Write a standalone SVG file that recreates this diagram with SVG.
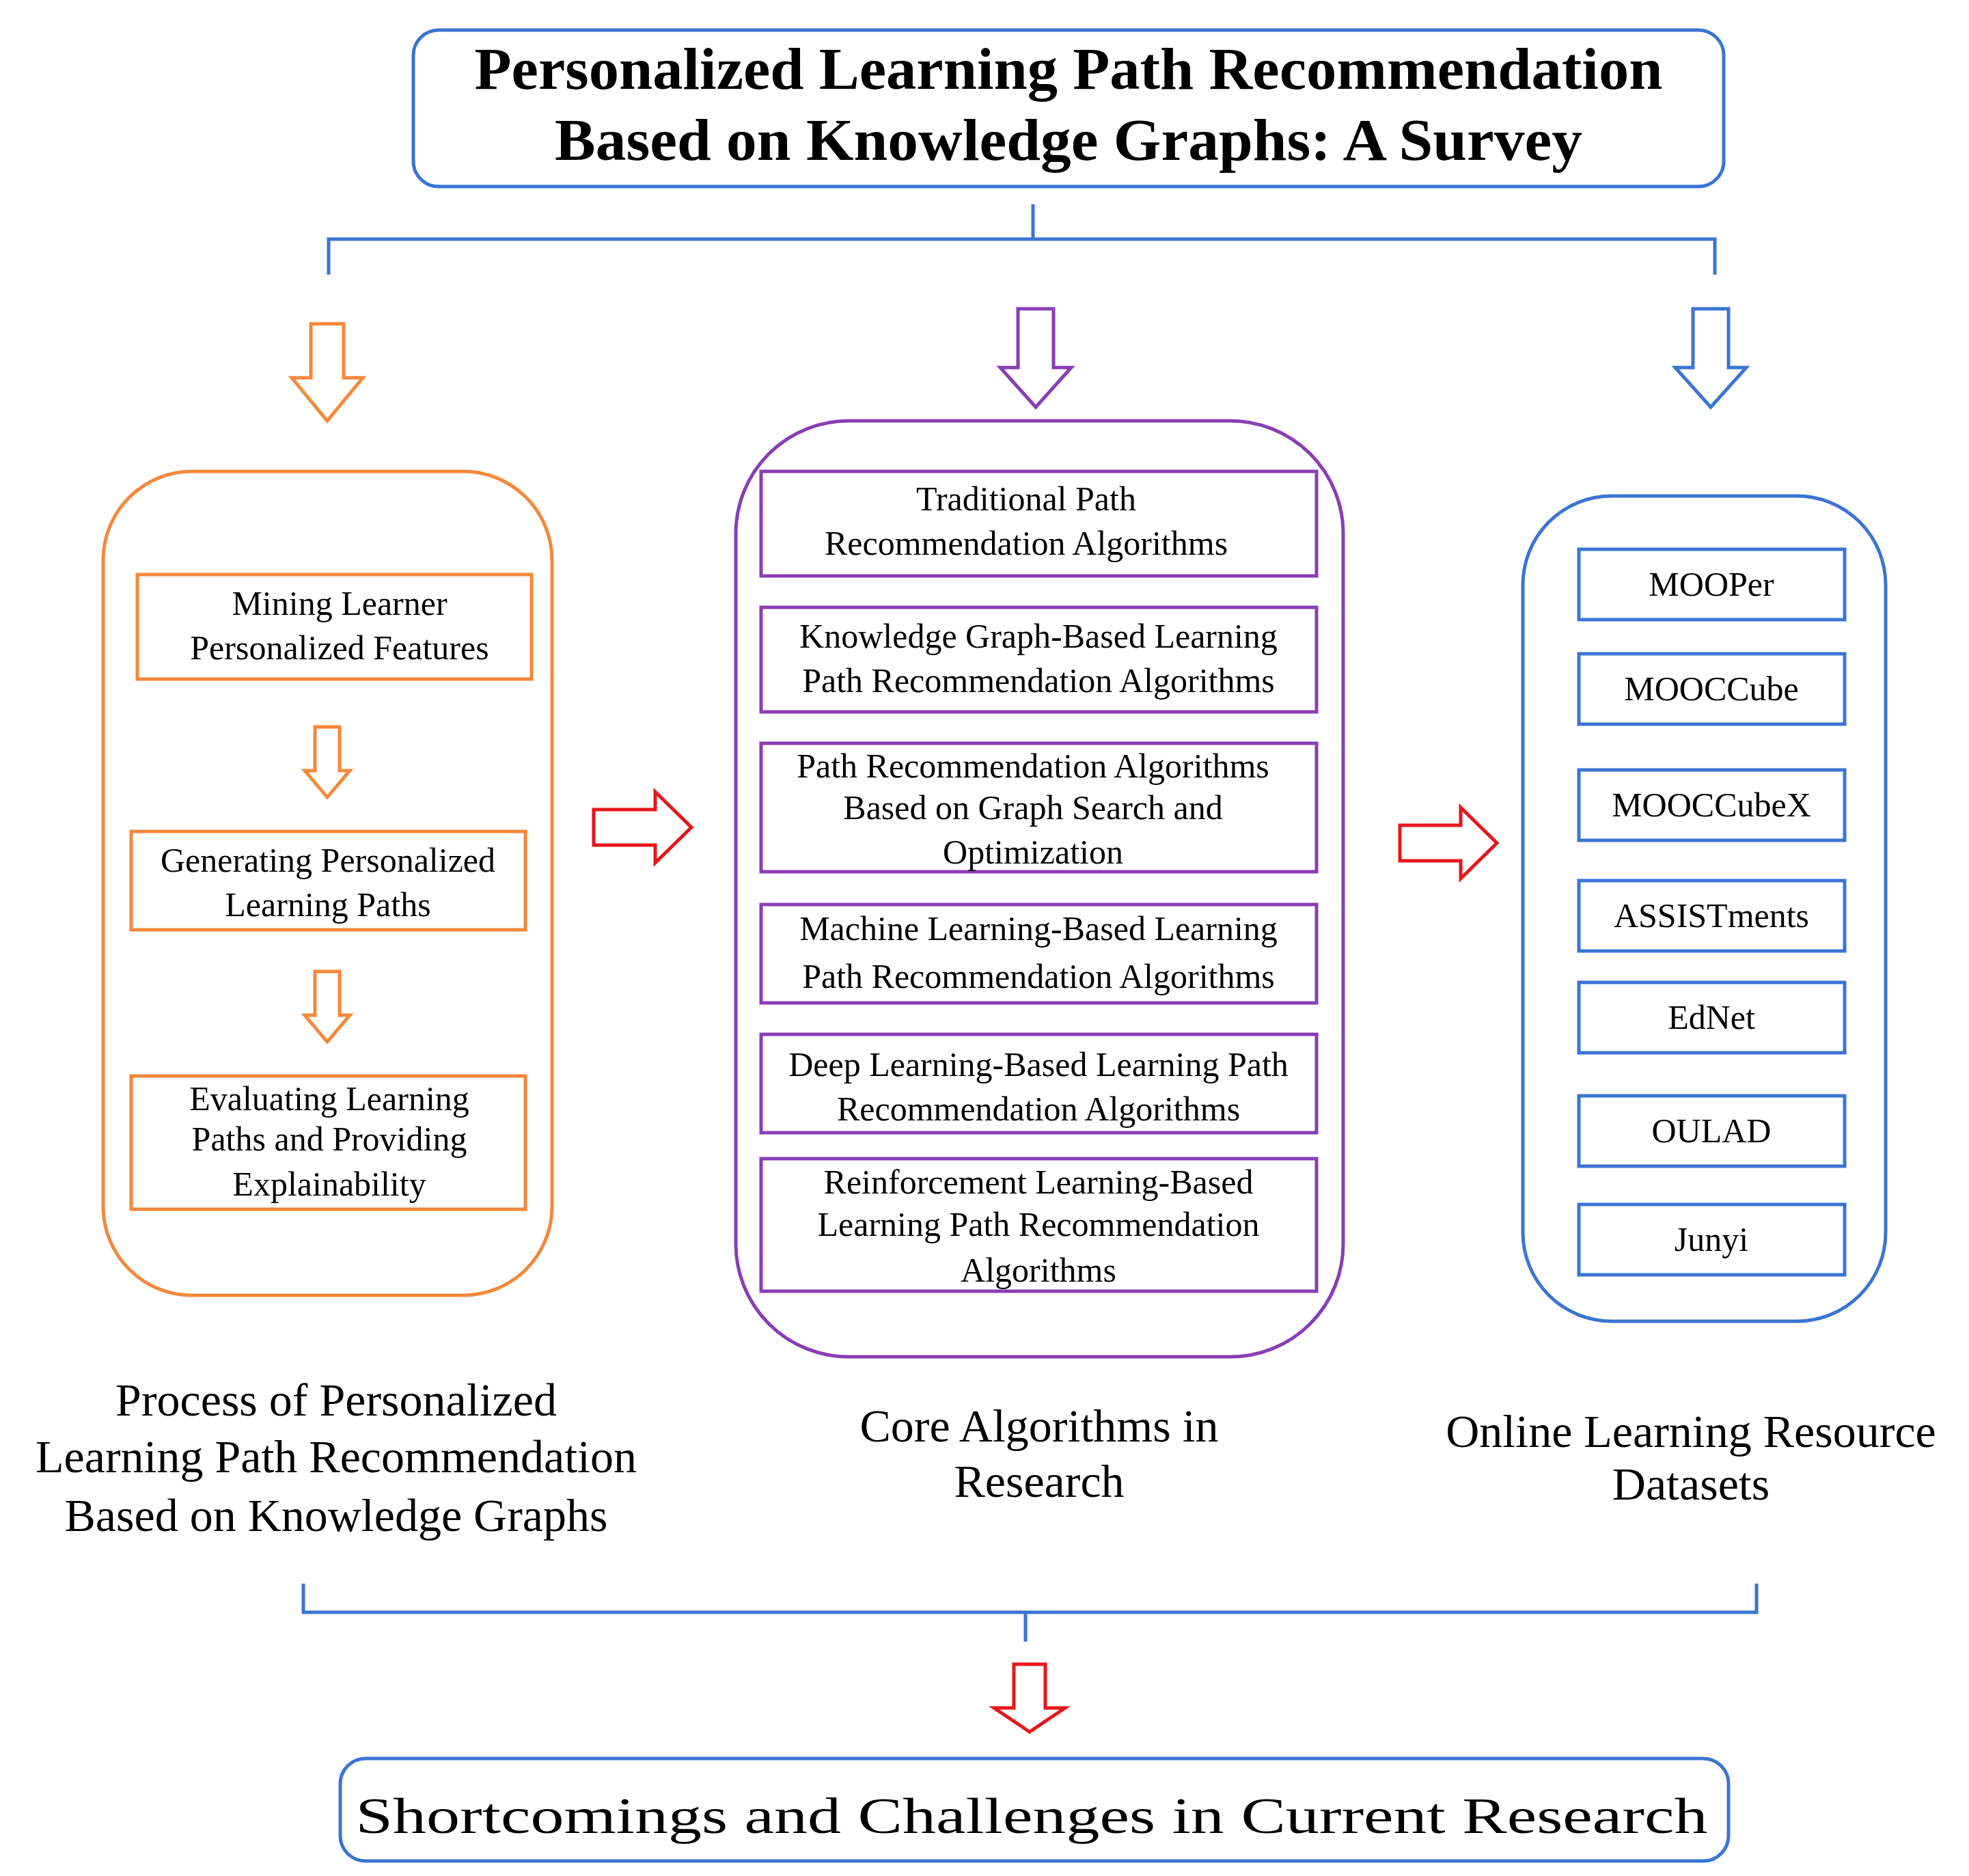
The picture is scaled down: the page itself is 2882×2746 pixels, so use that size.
<svg xmlns="http://www.w3.org/2000/svg" width="2882" height="2746" viewBox="0 0 2882 2746">
<style>
text{font-family:"Liberation Serif",serif;text-anchor:middle;fill:#000}
.b{fill:none;stroke:#3b74d4;stroke-width:5}
.o{fill:none;stroke:#f5883a;stroke-width:5}
.p{fill:none;stroke:#8a3db6;stroke-width:5}
.r{fill:none;stroke:#e8161b;stroke-width:5}
.in{font-size:50px}
.lab{font-size:68px}
</style>
<rect width="2882" height="2746" fill="#fff"/>
<g id="title">
<rect class="b" x="605" y="44" width="1918" height="229" rx="37"/>
<text x="1564" y="130" font-size="86" font-weight="bold" textLength="1739" lengthAdjust="spacingAndGlyphs">Personalized Learning Path Recommendation</text>
<text x="1564" y="234" font-size="86" font-weight="bold" textLength="1504" lengthAdjust="spacingAndGlyphs">Based on Knowledge Graphs: A Survey</text>
</g>
<g id="connectors">
<path class="b" d="M1512 299V350M481 402V350H2510V402"/>
<path class="o" d="M455 474H503V553H531L479 616L427 553H455Z"/>
<path class="p" d="M1490 452H1542V538H1568L1516 596L1464 538H1490Z"/>
<path class="b" d="M2478 452H2530V538H2556L2504 596L2452 538H2478Z"/>
<path class="o" d="M461 1064H497V1128H512L479 1167L446 1128H461Z"/>
<path class="o" d="M461 1422H497V1486H512L479 1525L446 1486H461Z"/>
<path class="r" d="M869 1185H959V1159L1012 1211L959 1263V1237H869Z"/>
<path class="r" d="M2049 1208H2138V1182L2191 1234L2138 1286V1260H2049Z"/>
<path class="b" d="M444 2318V2360H2571V2318M1501 2360V2403"/>
<path class="r" d="M1484 2436H1530V2500H1559L1507 2535L1455 2500H1484Z"/>
</g>
<g id="process">
<rect class="o" x="151" y="690" width="657" height="1206" rx="130"/>
<rect class="o" x="201" y="841" width="577" height="153"/>
<text class="in" x="497" y="900">Mining Learner</text>
<text class="in" x="497" y="965">Personalized Features</text>
<rect class="o" x="192" y="1217" width="577" height="144"/>
<text class="in" x="480" y="1276">Generating Personalized</text>
<text class="in" x="480" y="1341">Learning Paths</text>
<rect class="o" x="192" y="1575" width="577" height="195"/>
<text class="in" x="482" y="1625">Evaluating Learning</text>
<text class="in" x="482" y="1684">Paths and Providing</text>
<text class="in" x="482" y="1750">Explainability</text>
<text class="lab" x="492" y="2072">Process of Personalized</text>
<text class="lab" x="492" y="2155">Learning Path Recommendation</text>
<text class="lab" x="492" y="2241">Based on Knowledge Graphs</text>
</g>
<g id="core">
<rect class="p" x="1077" y="616" width="889" height="1370" rx="165"/>
<rect class="p" x="1114" y="690" width="813" height="153"/>
<text class="in" x="1502" y="747">Traditional Path</text>
<text class="in" x="1502" y="812">Recommendation Algorithms</text>
<rect class="p" x="1114" y="889" width="813" height="153"/>
<text class="in" x="1520" y="948">Knowledge Graph-Based Learning</text>
<text class="in" x="1520" y="1013">Path Recommendation Algorithms</text>
<rect class="p" x="1114" y="1088" width="813" height="188"/>
<text class="in" x="1512" y="1138">Path Recommendation Algorithms</text>
<text class="in" x="1512" y="1199">Based on Graph Search and</text>
<text class="in" x="1512" y="1264">Optimization</text>
<rect class="p" x="1114" y="1324" width="813" height="144"/>
<text class="in" x="1520" y="1376">Machine Learning-Based Learning</text>
<text class="in" x="1520" y="1446">Path Recommendation Algorithms</text>
<rect class="p" x="1114" y="1514" width="813" height="144"/>
<text class="in" x="1520" y="1575">Deep Learning-Based Learning Path</text>
<text class="in" x="1520" y="1640">Recommendation Algorithms</text>
<rect class="p" x="1114" y="1696" width="813" height="194"/>
<text class="in" x="1520" y="1747">Reinforcement Learning-Based</text>
<text class="in" x="1520" y="1809">Learning Path Recommendation</text>
<text class="in" x="1520" y="1876">Algorithms</text>
<text class="lab" x="1521" y="2110">Core Algorithms in</text>
<text class="lab" x="1521" y="2191">Research</text>
</g>
<g id="datasets">
<rect class="b" x="2229" y="726" width="531" height="1208" rx="130"/>
<rect class="b" x="2311" y="804" width="389" height="103"/>
<text class="in" x="2505" y="872">MOOPer</text>
<rect class="b" x="2311" y="957" width="389" height="103"/>
<text class="in" x="2505" y="1025">MOOCCube</text>
<rect class="b" x="2311" y="1127" width="389" height="103"/>
<text class="in" x="2505" y="1195">MOOCCubeX</text>
<rect class="b" x="2311" y="1289" width="389" height="103"/>
<text class="in" x="2505" y="1357">ASSISTments</text>
<rect class="b" x="2311" y="1438" width="389" height="103"/>
<text class="in" x="2505" y="1506">EdNet</text>
<rect class="b" x="2311" y="1604" width="389" height="103"/>
<text class="in" x="2505" y="1672">OULAD</text>
<rect class="b" x="2311" y="1763" width="389" height="103"/>
<text class="in" x="2505" y="1831">Junyi</text>
<text class="lab" x="2475" y="2118">Online Learning Resource</text>
<text class="lab" x="2475" y="2195">Datasets</text>
</g>
<g id="shortcomings">
<rect class="b" x="498" y="2574" width="2032" height="150" rx="37"/>
<text x="1510" y="2683" font-family="Liberation Mono, monospace" font-size="74" textLength="1979" lengthAdjust="spacingAndGlyphs">Shortcomings and Challenges in Current Research</text>
</g>
</svg>
